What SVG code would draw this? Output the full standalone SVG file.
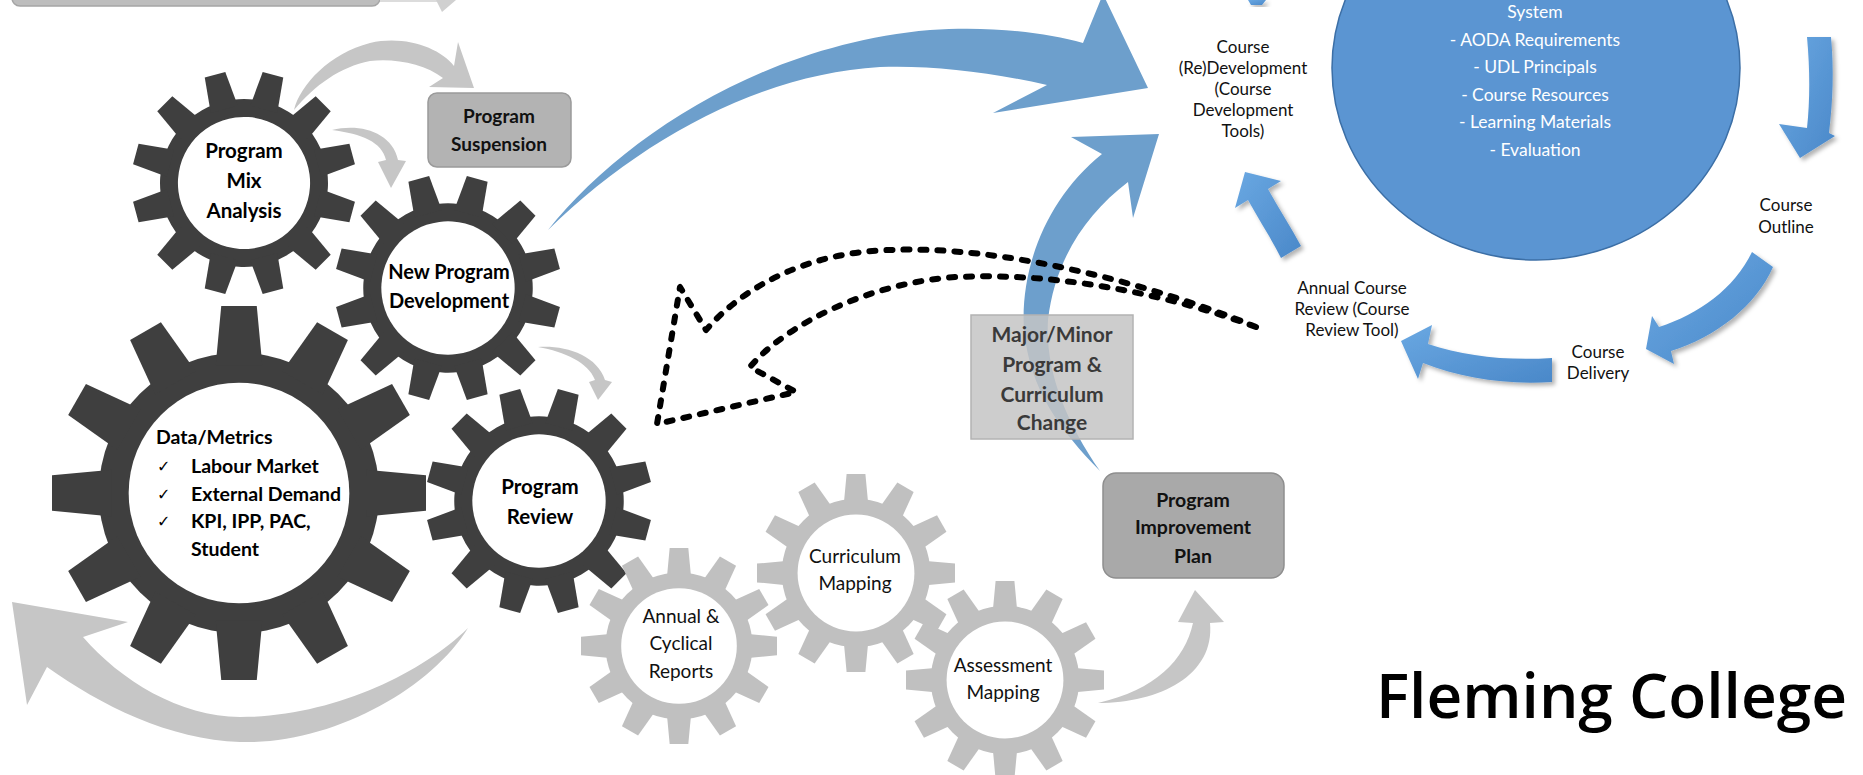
<svg xmlns="http://www.w3.org/2000/svg" width="1863" height="775" viewBox="0 0 1863 775">
<style>
.dark{fill:#3f3f3f}
.light{fill:#c0c0c0}
.gt{font-family:Lato,"Liberation Sans",sans-serif;font-weight:700;font-size:20.5px;fill:#000;text-anchor:middle}
.dt{font-family:Lato,"Liberation Sans",sans-serif;font-weight:700;font-size:19.5px;fill:#000}
.ck{font-family:"DejaVu Sans",sans-serif;font-size:16px;fill:#000}
.lt{font-family:Lato,"Liberation Sans",sans-serif;font-size:19px;fill:#111;text-anchor:middle}
.ct{font-family:Lato,"Liberation Sans",sans-serif;font-size:17px;fill:#111;text-anchor:middle}
.wt{font-family:Lato,"Liberation Sans",sans-serif;font-size:17.5px;fill:#fff;text-anchor:middle}
.bt{font-family:Lato,"Liberation Sans",sans-serif;font-weight:700;font-size:19px;fill:#111;text-anchor:middle}
.mt{font-family:Lato,"Liberation Sans",sans-serif;font-weight:700;font-size:21px;fill:#3a3a3a;text-anchor:middle}
.ga{fill:#c6c6c6}
.ba{fill:#6d9fcc}
.ca{fill:url(#cg);filter:url(#sh)}
.dots{fill:none;stroke:#000;stroke-width:6;stroke-dasharray:6 11;stroke-linecap:round;stroke-linejoin:round}
</style>
<defs>
<linearGradient id="cg" x1="0" y1="0" x2="1" y2="1">
<stop offset="0" stop-color="#6aa8e2"/>
<stop offset="1" stop-color="#4a88c9"/>
</linearGradient>
<filter id="sh" x="-20%" y="-20%" width="150%" height="150%">
<feDropShadow dx="3" dy="3" stdDeviation="2" flood-color="#000" flood-opacity="0.3"/>
</filter>
<path id="tooth" d="M-12.5,-68 L-9.5,-100 L9.5,-100 L12.5,-68 Z"/>
<g id="gear">
<circle r="75"/>
<use href="#tooth"/>
<use href="#tooth" transform="rotate(30)"/>
<use href="#tooth" transform="rotate(60)"/>
<use href="#tooth" transform="rotate(90)"/>
<use href="#tooth" transform="rotate(120)"/>
<use href="#tooth" transform="rotate(150)"/>
<use href="#tooth" transform="rotate(180)"/>
<use href="#tooth" transform="rotate(210)"/>
<use href="#tooth" transform="rotate(240)"/>
<use href="#tooth" transform="rotate(270)"/>
<use href="#tooth" transform="rotate(300)"/>
<use href="#tooth" transform="rotate(330)"/>
<circle r="59" fill="#fff"/>
</g>
</defs>
<rect width="1863" height="775" fill="#fff"/>

<g id="top-box">
<rect x="12" y="-30" width="368" height="36" rx="8" fill="#bdbdbd" stroke="#a5a5a5" stroke-width="1.5"/>
<rect x="380" y="0" width="58" height="2" fill="#dcdcdc"/>
<polygon points="436,0 456,0 442,12" fill="#d0d0d0"/>
</g>

<g id="connectors">
<path class="ga" d="M294,110 C300,85 330,53 370,43 C405,35 440,48 454,66 L458,42 L474,88 L429,87 L443,78 C425,64 395,58 370,61 C340,67 315,85 294,110 Z"/>
<path class="ga" d="M332,130 C360,123 392,132 398,160 L406,161 L391,188 L378,162 L386,160 C382,142 362,134 332,130 Z"/>
<path class="ga" d="M538,347 C565,345 597,355 605,380 L612,382 L598,400 L589,382 L595,380 C588,362 565,352 538,347 Z"/>
<path class="ga" d="M1098,703 C1160,703 1215,675 1210,623 L1224,622 L1195,590 L1178,622 L1193,623 C1185,660 1155,690 1098,703 Z"/>
<path class="ga" d="M468,628 C430,690 330,745 240,742 C170,740 100,705 47,667 L27,705 L12,602 L128,622 L83,637 C120,680 180,717 240,717 C330,717 420,675 468,628 Z"/>
<path class="ba" d="M548,230 C620,140 760,45 930,30 C990,26 1045,32 1083,43 L1103,-6 L1148,88 L993,113 L1047,85 C990,72 930,65 880,67 C760,74 640,140 548,230 Z"/>
<path class="ba" d="M1100,471 C1060,430 1030,390 1024,330 C1020,270 1045,200 1102,154 L1071,137 L1159,134 L1133,218 L1128,182 C1085,215 1055,260 1048,320 C1045,370 1065,420 1100,471 Z"/>
<path class="dots" d="M1256,327 C1150,283 1000,245 890,250 C810,252 745,285 706,330 L680,287 L657,424 L796,392 L750,367 C785,325 870,282 957,277 C1060,272 1170,295 1256,327"/>
<path class="ca" d="M1807,37 L1831,37 C1834,70 1833,100 1829,133 L1835,136 L1800,158 L1779,124 L1807,128 C1810,100 1810,70 1807,37 Z"/>
<path class="ca" d="M1752,252 L1773,267 C1756,306 1716,337 1671,351 L1674,364 L1646,349 L1652,316 L1659,327 C1699,314 1734,289 1752,252 Z"/>
<path class="ca" d="M1552,358 L1552,382 C1505,385 1462,378 1423,363 L1418,379 L1401,341 L1432,325 L1428,344 C1465,356 1505,361 1552,358 Z"/>
<path class="ca" d="M1301,246 L1281,258 C1271,238 1259,220 1248,200 L1235,208 L1245,172 L1281,181 L1268,189 C1279,209 1291,227 1301,246 Z"/>
<path class="ca" d="M1248,0 L1266,0 L1262,5 L1251,5 Z"/>
</g>

<g id="box-suspension">
<rect x="428" y="93" width="143" height="74" rx="9" fill="#b3b3b3" stroke="#9a9a9a" stroke-width="1.5"/>
<text class="bt" x="499" y="123">Program</text>
<text class="bt" x="499" y="151">Suspension</text>
</g>

<g id="box-major">
<rect x="971" y="315" width="162" height="124" fill="#c4c4c4" fill-opacity="0.85" stroke="#b3b3b3" stroke-width="1.5"/>
<text class="mt" x="1052" y="342">Major/Minor</text>
<text class="mt" x="1052" y="372">Program &amp;</text>
<text class="mt" x="1052" y="402">Curriculum</text>
<text class="mt" x="1052" y="430">Change</text>
</g>

<g id="box-pip">
<rect x="1103" y="473" width="181" height="105" rx="13" fill="#a9a9a9" stroke="#8e8e8e" stroke-width="1.5"/>
<text class="bt" x="1193" y="507" style="font-size:19.5px">Program</text>
<text class="bt" x="1193" y="534" style="font-size:19.5px">Improvement</text>
<text class="bt" x="1193" y="563" style="font-size:19.5px">Plan</text>
</g>

<g id="gear-mix">
<use href="#gear" class="dark" transform="translate(244,183) scale(1.12) rotate(15)"/>
<text class="gt" x="244" y="158">Program</text>
<text class="gt" x="244" y="188">Mix</text>
<text class="gt" x="244" y="218">Analysis</text>
</g>

<g id="gear-newprog">
<use href="#gear" class="dark" transform="translate(448,288) scale(1.13) rotate(15)"/>
<text class="gt" x="449" y="279" style="font-size:20px">New Program</text>
<text class="gt" x="449" y="308" style="font-size:20px">Development</text>
</g>

<g id="gear-data">
<use href="#gear" class="dark" transform="translate(239,493) scale(1.87)"/>
<text class="dt" x="156" y="444">Data/Metrics</text>
<text class="ck" x="157" y="472">✓</text>
<text class="dt" x="191" y="473">Labour Market</text>
<text class="ck" x="157" y="500">✓</text>
<text class="dt" x="191" y="501">External Demand</text>
<text class="ck" x="157" y="527">✓</text>
<text class="dt" x="191" y="528">KPI, IPP, PAC,</text>
<text class="dt" x="191" y="556">Student</text>
</g>

<g id="gear-review">
<use href="#gear" class="dark" transform="translate(539,501) scale(1.13) rotate(15)"/>
<text class="gt" x="540" y="494">Program</text>
<text class="gt" x="540" y="524">Review</text>
</g>

<g id="gear-annual">
<use href="#gear" class="light" transform="translate(679,646) scale(0.98)"/>
<text class="lt" x="681" y="623">Annual &amp;</text>
<text class="lt" x="681" y="650">Cyclical</text>
<text class="lt" x="681" y="678">Reports</text>
</g>

<g id="gear-curriculum">
<use href="#gear" class="light" transform="translate(856,573) scale(0.99)"/>
<text class="lt" x="855" y="563">Curriculum</text>
<text class="lt" x="855" y="590">Mapping</text>
</g>

<g id="gear-assessment">
<use href="#gear" class="light" transform="translate(1005,680) scale(0.99)"/>
<text class="lt" x="1003" y="672">Assessment</text>
<text class="lt" x="1003" y="699">Mapping</text>
</g>

<g id="circle-system">
<ellipse cx="1536" cy="68" rx="204" ry="192" fill="#5b95d2" stroke="#3c6fa6" stroke-width="1.5"/>
<text class="wt" x="1535" y="18">System</text>
<text class="wt" x="1535" y="45.6">- AODA Requirements</text>
<text class="wt" x="1535" y="73.2">- UDL Principals</text>
<text class="wt" x="1535" y="100.8">- Course Resources</text>
<text class="wt" x="1535" y="128.4">- Learning Materials</text>
<text class="wt" x="1535" y="156">- Evaluation</text>
</g>

<g id="label-course-dev">
<text class="ct" x="1243" y="53">Course</text>
<text class="ct" x="1243" y="74">(Re)Development</text>
<text class="ct" x="1243" y="95">(Course</text>
<text class="ct" x="1243" y="116">Development</text>
<text class="ct" x="1243" y="137">Tools)</text>
</g>

<g id="label-course-outline">
<text class="ct" x="1786" y="211">Course</text>
<text class="ct" x="1786" y="233">Outline</text>
</g>

<g id="label-course-delivery">
<text class="ct" x="1598" y="358">Course</text>
<text class="ct" x="1598" y="379">Delivery</text>
</g>

<g id="label-annual-review">
<text class="ct" x="1352" y="294">Annual Course</text>
<text class="ct" x="1352" y="315">Review (Course</text>
<text class="ct" x="1352" y="336">Review Tool)</text>
</g>

<g id="title">
<text x="1376" y="718" textLength="471" lengthAdjust="spacingAndGlyphs" style="font-family:'Open Sans','Liberation Sans',sans-serif;font-weight:600;font-size:62px;fill:#000">Fleming College</text>
</g>
</svg>
